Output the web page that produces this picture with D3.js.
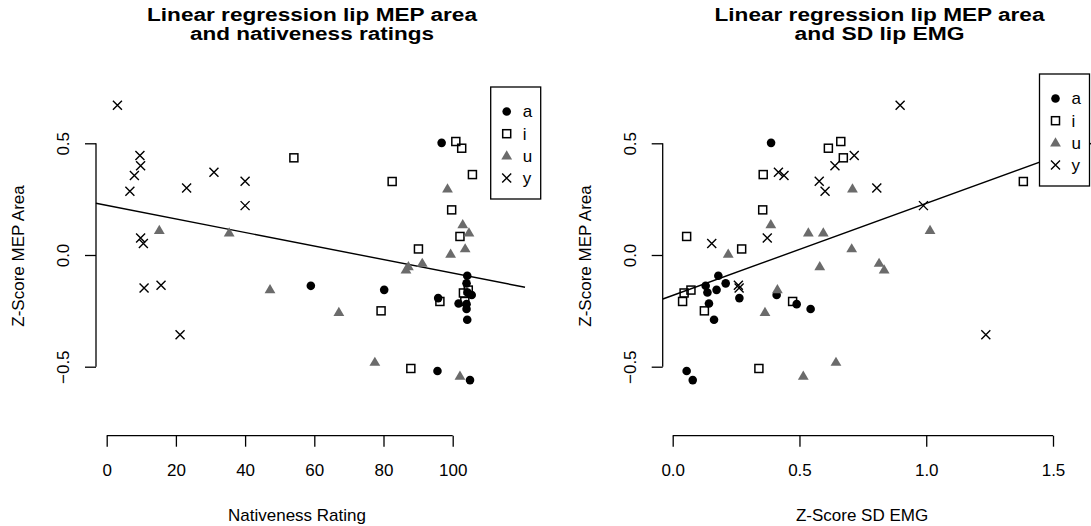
<!DOCTYPE html>
<html>
<head>
<meta charset="utf-8">
<script src="https://cdn.jsdelivr.net/npm/d3@7"></script>
<style>
  body { margin: 0; background: #fff; }
  text { font-family: "Liberation Sans", Arial, sans-serif; fill: #000; }
  .axis path, .axis line { stroke: #000; stroke-width: 1.3; }
</style>
</head>
<body>
<div id="chart"></div>
<script>
// vowel groups
const vowels = ['a', 'i', 'u', 'y'];

// Z-score MEP area per vowel (same subjects in both panels)
const mepA = [0.502, -0.093, -0.127, -0.138, -0.156, -0.168, -0.179, -0.193, -0.217, -0.22, -0.242, -0.29, -0.519, -0.56];
const mepI = [0.508, 0.478, 0.435, 0.36, 0.329, 0.202, 0.083, 0.027, -0.157, -0.17, -0.208, -0.208, -0.25, -0.508];
const mepU = [0.296, 0.136, 0.11, 0.099, 0.099, 0.028, 0.004, -0.037, -0.052, -0.067, -0.155, -0.257, -0.48, -0.542];
const mepY = [0.67, 0.445, 0.40, 0.37, 0.356, 0.33, 0.30, 0.285, 0.221, 0.076, 0.052, -0.135, -0.148, -0.357];

// nativeness ratings
const nativeA = [96.8, 104.2, 104.0, 59.0, 80.2, 104.3, 105.5, 95.8, 101.7, 104.0, 104.0, 104.2, 95.6, 105.0];
const nativeI = [100.9, 102.6, 54.1, 105.7, 82.5, 99.7, 102.1, 90.1, 104.5, 103.1, 96.3, 103.5, 79.3, 87.9];
const nativeU = [98.5, 102.9, 15.2, 35.4, 104.7, 103.6, 99.4, 91.2, 87.2, 86.5, 47.2, 67.1, 77.5, 102.1];
const nativeY = [3.1, 9.6, 9.8, 31.0, 8.0, 40.0, 23.1, 6.7, 40.0, 9.8, 10.6, 15.7, 10.8, 21.2];

// Z-score SD lip EMG
const emgA = [0.388, 0.18, 0.209, 0.130, 0.173, 0.137, 0.41, 0.263, 0.143, 0.489, 0.544, 0.163, 0.055, 0.079];
const emgI = [0.663, 0.614, 0.673, 0.357, 1.383, 0.355, 0.055, 0.272, 0.072, 0.045, 0.039, 0.473, 0.125, 0.34];
const emgU = [0.709, 0.387, 1.015, 0.535, 0.594, 0.706, 0.219, 0.814, 0.58, 0.834, 0.413, 0.364, 0.644, 0.515];
const emgY = [0.897, 0.716, 0.64, 0.417, 0.439, 0.578, 0.805, 0.601, 0.989, 0.373, 0.154, 0.259, 0.262, 1.235];

// fitted lines: [intercept, slope], and x extent of the plot region
const fitNative = [0.222, -0.00303];
const fitNativeX = [-3.1, 120.9];
const fitEmg = [-0.181, 0.412];
const fitEmgX = [-0.039, 1.7];

// tick values
const nativeTicks = [0, 20, 40, 60, 80, 100];
const emgTicks = [0, 0.5, 1.0, 1.5];
const mepTicks = [-0.5, 0, 0.5];

const width = 1091, height = 526;
const triColor = '#6b6b6b';

const svg = d3.select('#chart').append('svg')
  .attr('width', width)
  .attr('height', height);

function marker(g, vowel) {
  if (vowel === 'a') {
    g.append('circle').attr('r', 4.3).attr('fill', '#000');
  } else if (vowel === 'i') {
    g.append('rect').attr('x', -4).attr('y', -4).attr('width', 8).attr('height', 8)
      .attr('fill', 'none').attr('stroke', '#000').attr('stroke-width', 1.5);
  } else if (vowel === 'u') {
    g.append('path').attr('d', 'M0,-5.6L5.4,3.6L-5.4,3.6Z').attr('fill', triColor);
  } else {
    g.append('path').attr('d', 'M-4.5,-4.5L4.5,4.5M-4.5,4.5L4.5,-4.5')
      .attr('stroke', '#000').attr('stroke-width', 1.4).attr('fill', 'none');
  }
}

function drawPanel(cfg) {
  const x = d3.scaleLinear().domain([cfg.ticks[0], cfg.ticks[cfg.ticks.length - 1]]).range(cfg.xRange);
  const y = d3.scaleLinear().domain([-0.5, 0.5]).range([366.7, 143.3]);
  const g = svg.append('g');

  // title
  cfg.title.forEach((line, i) => {
    g.append('text')
      .attr('x', cfg.titleX)
      .attr('y', 21 + i * 19)
      .attr('text-anchor', 'middle')
      .attr('font-size', 18)
      .attr('font-weight', 'bold')
      .attr('textLength', cfg.titleLen[i])
      .attr('lengthAdjust', 'spacingAndGlyphs')
      .text(line);
  });

  // axes
  const xAxis = g.append('g').attr('class', 'axis')
    .attr('transform', 'translate(0,435.7)')
    .call(d3.axisBottom(x).tickValues(cfg.ticks).tickSize(11).tickSizeOuter(0)
      .tickFormat(cfg.fmt));
  xAxis.selectAll('text').attr('font-size', 17).attr('dy', 0).attr('y', 40);
  xAxis.select('.domain').attr('d', `M${cfg.xRange[0]},0H${cfg.xRange[1]}`);

  const yAxis = g.append('g').attr('class', 'axis')
    .attr('transform', `translate(${cfg.yAxisX},0)`)
    .call(d3.axisLeft(y).tickValues(mepTicks).tickSize(11).tickSizeOuter(0).tickFormat(d3.format('.1f')));
  yAxis.select('.domain').attr('d', `M0,${y(-0.5)}V${y(0.5)}`);
  yAxis.selectAll('.tick text')
    .attr('font-size', 17)
    .attr('transform', 'rotate(-90)')
    .attr('x', 0).attr('y', -33).attr('dy', '0.35em')
    .attr('text-anchor', 'middle');
  yAxis.selectAll('text').attr('fill', '#000');
  xAxis.selectAll('text').attr('fill', '#000');

  // axis titles
  g.append('text')
    .attr('x', cfg.xTitleX).attr('y', 521)
    .attr('text-anchor', 'middle').attr('font-size', 17)
    .text(cfg.xTitle);
  g.append('text')
    .attr('transform', `translate(${cfg.yTitleX},256) rotate(-90)`)
    .attr('text-anchor', 'middle').attr('font-size', 17)
    .text('Z-Score MEP Area');

  // regression line
  const lineX = cfg.fitX;
  g.append('line')
    .attr('x1', x(lineX[0])).attr('y1', y(cfg.fit[0] + cfg.fit[1] * lineX[0]))
    .attr('x2', x(lineX[1])).attr('y2', y(cfg.fit[0] + cfg.fit[1] * lineX[1]))
    .attr('stroke', '#000').attr('stroke-width', 1.4);

  // points
  vowels.forEach((v, vi) => {
    const xs = cfg.xs[vi], ys = cfg.ys[vi];
    xs.forEach((xv, k) => {
      const m = g.append('g').attr('transform', `translate(${x(xv)},${y(ys[k])})`);
      marker(m, v);
    });
  });

  // legend
  const lg = g.append('g').attr('transform', `translate(${cfg.legend[0]},${cfg.legend[1]})`);
  lg.append('rect').attr('x', 0).attr('y', 0).attr('width', 50).attr('height', 112)
    .attr('fill', '#fff').attr('stroke', '#000').attr('stroke-width', 1.3);
  vowels.forEach((v, i) => {
    const row = lg.append('g').attr('transform', `translate(0,${24.5 + i * 22.2})`);
    marker(row.append('g').attr('transform', 'translate(16,0)'), v);
    row.append('text').attr('x', 32).attr('y', 0).attr('dy', '0.35em')
      .attr('font-size', 17).text(v);
  });
}

drawPanel({
  title: ['Linear regression lip MEP area', 'and nativeness ratings'],
  titleX: 312, titleLen: [330, 244],
  ticks: nativeTicks, fmt: d3.format('d'),
  xRange: [106.7, 452.7], yAxisX: 96,
  xTitle: 'Nativeness Rating', xTitleX: 297, yTitleX: 24,
  fit: fitNative, fitX: fitNativeX,
  xs: [nativeA, nativeI, nativeU, nativeY], ys: [mepA, mepI, mepU, mepY],
  legend: [490.7, 87]
});

drawPanel({
  title: ['Linear regression lip MEP area', 'and SD lip EMG'],
  titleX: 879.5, titleLen: [330, 170],
  ticks: emgTicks, fmt: d3.format('.1f'),
  xRange: [672.7, 1053], yAxisX: 662.7,
  xTitle: 'Z-Score SD EMG', xTitleX: 862, yTitleX: 591,
  fit: fitEmg, fitX: fitEmgX,
  xs: [emgA, emgI, emgU, emgY], ys: [mepA, mepI, mepU, mepY],
  legend: [1039.5, 74]
});
</script>
</body>
</html>
